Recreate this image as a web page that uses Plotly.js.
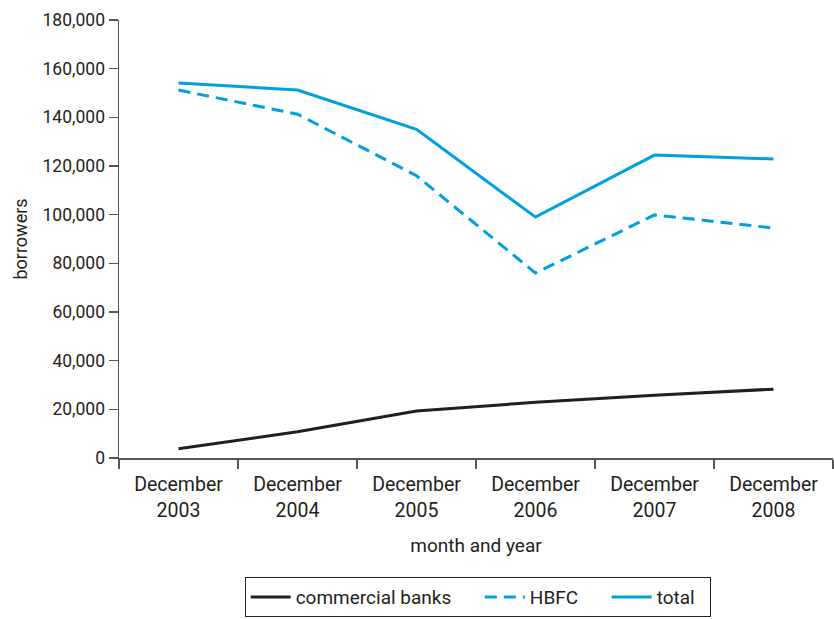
<!DOCTYPE html>
<html>
<head>
<meta charset="utf-8">
<script src="https://cdn.plot.ly/plotly-3.0.1.min.js"></script>
<style>html,body{margin:0;padding:0;background:#fff;}#chart{width:834px;height:619px;}</style>
</head>
<body>
<div id="chart"></div>
<script>
const categories = ["December<br>2003", "December<br>2004", "December<br>2005", "December<br>2006", "December<br>2007", "December<br>2008"];
const commercialBanks = [3800, 10800, 19300, 22900, 25800, 28300];
const hbfc = [151200, 141300, 116000, 76000, 99900, 94500];
const total = [154100, 151200, 135100, 99000, 124500, 122900];
const yTickVals = [0, 20000, 40000, 60000, 80000, 100000, 120000, 140000, 160000, 180000];
const seriesNames = ["commercial banks", "HBFC", "total"];

const FONT = "Roboto, 'Liberation Sans Narrow', Arial, sans-serif";
const BLUE = "#009fdf";
const DARK = "#231f20";
const PAD = "\u00a0\u00a0\u00a0\u00a0\u00a0";

const traces = [
  {x: categories, y: commercialBanks, name: seriesNames[0] + PAD, type: "scatter", mode: "lines",
   line: {color: DARK, width: 3}},
  {x: categories, y: hbfc, name: seriesNames[1] + PAD, type: "scatter", mode: "lines",
   line: {color: BLUE, width: 3, dash: "12px,7px"}},
  {x: categories, y: total, name: seriesNames[2] + "\u00a0\u00a0", type: "scatter", mode: "lines",
   line: {color: BLUE, width: 3}}
];

const layout = {
  width: 834, height: 619,
  margin: {l: 119, r: 1, t: 20, b: 161},
  paper_bgcolor: "#fff", plot_bgcolor: "#fff",
  font: {family: FONT, size: 18, color: DARK},
  showlegend: true,
  legend: {orientation: "h", x: 0.176, xanchor: "left", y: -0.272, yanchor: "top",
    bordercolor: DARK, borderwidth: 1, font: {family: FONT, size: 19, color: DARK},
    traceorder: "normal", itemwidth: 40},
  xaxis: {
    type: "category",
    showline: true, linecolor: "#555", linewidth: 2,
    ticks: "outside", tickson: "boundaries", ticklen: 9, tickcolor: "#555", tickwidth: 1.5,
    ticklabelstandoff: 8,
    showgrid: false, zeroline: false,
    tickfont: {family: FONT, size: 19.5, color: DARK},
    title: {text: "month and year", font: {family: FONT, size: 19, color: DARK}, standoff: 18},
    range: [-0.5, 5.5]
  },
  yaxis: {
    range: [0, 180000],
    tickvals: yTickVals,
    tickformat: ",d",
    showline: true, linecolor: "#555", linewidth: 1.5,
    ticks: "outside", ticklen: 9, tickcolor: "#555", tickwidth: 1.5,
    showgrid: false, zeroline: false,
    tickfont: {family: FONT, size: 17.5, color: DARK},
    title: {text: "borrowers", font: {family: FONT, size: 18, color: DARK}, standoff: 10}
  }
};

Plotly.newPlot("chart", traces, layout, {displayModeBar: false, staticPlot: true});
</script>
</body>
</html>
